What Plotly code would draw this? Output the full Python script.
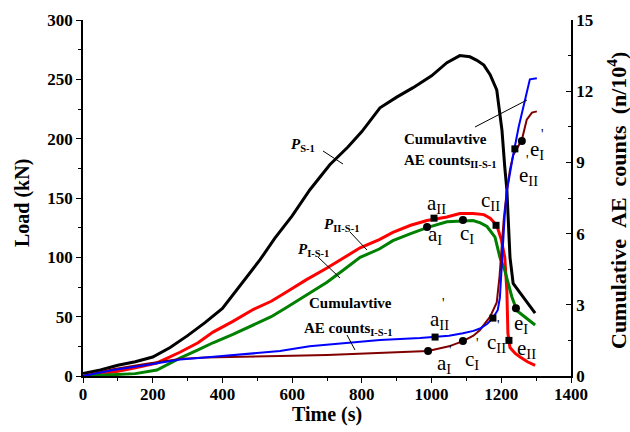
import plotly.graph_objects as go

# ---------------- data ----------------
t_s1 = [0, 50, 100, 150, 200, 250, 300, 350, 400, 450, 508, 550, 600, 651, 708, 760, 800, 852, 900, 947,
        1000, 1044, 1081, 1110, 1130, 1150, 1168, 1187, 1202, 1210, 1216, 1225, 1234, 1254, 1275, 1297]
load_s1 = [2, 5, 9, 12, 16, 24, 34, 45, 57, 76, 98, 116, 135, 157, 178, 193, 206, 226, 235, 243,
           253, 264, 270, 269, 266, 262, 254, 241, 207, 176, 157, 100, 78, 70, 62, 53]

t_II = [0, 50, 100, 150, 212, 278, 330, 373, 430, 488, 540, 585, 640, 700, 750, 795, 850, 889, 940, 987,
        1044, 1081, 1119, 1150, 1168, 1187, 1200, 1210, 1216, 1219, 1225, 1240, 1254, 1275, 1297]
load_II = [0, 2, 4, 7, 11, 20, 28, 37, 46, 56, 63, 71, 81, 91, 100, 108, 115, 121, 127, 131,
           134, 137, 137, 136, 133, 127, 115, 100, 72, 36, 24, 19, 16, 12, 9]

t_I = [0, 100, 150, 212, 278, 330, 373, 430, 488, 540, 585, 640, 700, 750, 795, 850, 889, 940, 987,
       1044, 1090, 1119, 1140, 1159, 1182, 1196, 1210, 1230, 1245, 1270, 1297]
load_I = [0, 1, 2, 5, 15, 22, 28, 35, 43, 50, 58, 68, 79, 90, 100, 107, 114, 120, 125,
          130, 131, 131, 129, 126, 117, 100, 89, 67, 55, 49, 43]

t_ae_II = [0, 86, 183, 278, 350, 400, 480, 565, 650, 775, 852, 967, 1010, 1050, 1090, 1120, 1139, 1160,
           1176, 1190, 1196, 1200, 1205, 1210, 1216, 1225, 1234, 1250, 1262, 1275, 1282, 1302]
ae_II = [0, 0.25, 0.46, 0.7, 0.78, 0.85, 0.95, 1.05, 1.25, 1.43, 1.52, 1.6, 1.64, 1.7, 1.8, 1.9, 2.0, 2.2,
         2.44, 2.78, 3.3, 4.3, 5.8, 6.8, 7.8, 8.6, 9.3, 10.5, 11.3, 12.1, 12.5, 12.55]

t_ae_I = [0, 86, 183, 278, 350, 400, 500, 600, 700, 800, 852, 920, 990, 1050, 1090, 1120, 1139, 1168,
          1187, 1195, 1200, 1207, 1216, 1225, 1234, 1250, 1259, 1273, 1288, 1302]
ae_I = [0, 0.28, 0.52, 0.72, 0.78, 0.8, 0.82, 0.85, 0.88, 0.93, 0.97, 1.0, 1.05, 1.25, 1.47, 1.7, 1.94, 2.5,
        3.1, 4.2, 5.1, 6.6, 7.8, 8.7, 9.3, 9.7, 9.95, 10.8, 11.1, 11.15]

# characteristic points
pt_load_II_t = [1007, 1185, 1222]
pt_load_II = [133, 127, 30]
pt_load_I_t = [987, 1090, 1242]
pt_load_I = [125.5, 131.5, 57]
pt_ae_II_t = [1010, 1176, 1239]
pt_ae_II = [1.64, 2.44, 9.57]
pt_ae_I_t = [990, 1090, 1259]
pt_ae_I = [1.05, 1.47, 9.9]

x_ticks = [0, 200, 400, 600, 800, 1000, 1200, 1400]
y_ticks = [0, 50, 100, 150, 200, 250, 300]
y2_ticks = [0, 3, 6, 9, 12, 15]

# ---------------- figure ----------------
FONT = "Liberation Serif"
X0, X1, YB, YT = 83, 571, 376, 20
W, H = 630, 432


def px(x):
    return (x - X0) / (X1 - X0)


def py(y):
    return (YB - y) / (YB - YT)


fig = go.Figure()
fig.add_trace(go.Scatter(x=t_ae_I, y=ae_I, yaxis="y2", mode="lines",
                         line=dict(color="#800000", width=2)))
fig.add_trace(go.Scatter(x=t_ae_II, y=ae_II, yaxis="y2", mode="lines",
                         line=dict(color="#0000FF", width=2)))
fig.add_trace(go.Scatter(x=t_s1, y=load_s1, mode="lines", line=dict(color="black", width=3)))
fig.add_trace(go.Scatter(x=t_II, y=load_II, mode="lines", line=dict(color="#FF0000", width=3)))
fig.add_trace(go.Scatter(x=t_I, y=load_I, mode="lines", line=dict(color="#008000", width=3)))

fig.add_trace(go.Scatter(x=pt_load_II_t, y=pt_load_II, mode="markers",
                         marker=dict(symbol="square", size=7, color="black")))
fig.add_trace(go.Scatter(x=pt_load_I_t, y=pt_load_I, mode="markers",
                         marker=dict(symbol="circle", size=8, color="black")))
fig.add_trace(go.Scatter(x=pt_ae_II_t, y=pt_ae_II, yaxis="y2", mode="markers",
                         marker=dict(symbol="square", size=7, color="black")))
fig.add_trace(go.Scatter(x=pt_ae_I_t, y=pt_ae_I, yaxis="y2", mode="markers",
                         marker=dict(symbol="circle", size=8, color="black")))

annotations = []


def label(text, x, y, size=22, bold=False, xanchor="left", yanchor="middle", angle=0):
    annotations.append(dict(text=text, x=px(x), y=py(y), xref="paper", yref="paper",
                            showarrow=False, xanchor=xanchor, yanchor=yanchor, textangle=angle,
                            font=dict(family=FONT, size=size, color="black",
                                      weight="bold" if bold else "normal")))


# point labels (letter left edge x, letter centre y)
pts = [("a<sub>II</sub>", 425, 204), ("a<sub>I</sub>", 426, 235), ("c<sub>I</sub>", 458, 234),
       ("c<sub>II</sub>", 479, 201), ("e<sub>I</sub>", 512, 324), ("e<sub>II</sub>", 515, 349),
       ("a<sub>II</sub>", 428, 320), ("a<sub>I</sub>", 435, 364), ("c<sub>I</sub>", 463, 360),
       ("c<sub>II</sub>", 485, 343), ("e<sub>I</sub>", 528, 150), ("e<sub>II</sub>", 517, 176)]
for txt, x, y in pts:
    label(txt, x, y, size=21)

primes = [(443, 303), (450, 350), (477, 343), (498, 325), (542, 134), (527, 160)]
for x, y in primes:
    label("'", x, y, size=14, xanchor="center")

# curve labels
label("<i>P</i><sub>S-1</sub>", 289, 145, size=15, bold=True)
label("<i>P</i><sub>II-S-1</sub>", 322, 225, size=15, bold=True)
label("<i>P</i><sub>I-S-1</sub>", 296, 250, size=15, bold=True)
label("Cumulavtive", 307, 303, size=15, bold=True)
label("AE counts<sub>I-S-1</sub>", 302, 329, size=15, bold=True)
label("Cumulavtive", 445, 139, size=15, bold=True, xanchor="center")
label("AE counts<sub>II-S-1</sub>", 450, 161, size=15, bold=True, xanchor="center")

# axis titles
NB = "\u00a0"
label("Load (kN)", 22, 203, size=20, bold=True, xanchor="center", angle=-90)
label("Time (s)", 327, 414, size=20, bold=True, xanchor="center")
label("Cumulative" + NB * 2 + "AE" + NB * 2 + "counts" + NB * 2 + "(n/10<sup>4</sup>)",
      617, 201, size=22, bold=True, xanchor="center", angle=-90)

shapes = []
for (xa, ya, xb, yb) in [(323, 151, 343, 164), (350, 232, 367, 250), (318, 257, 340, 278),
                         (347, 335, 355, 350), (475, 127, 527, 100)]:
    shapes.append(dict(type="line", xref="paper", yref="paper",
                       x0=px(xa), y0=py(ya), x1=px(xb), y1=py(yb),
                       line=dict(color="black", width=1)))

tickfont = dict(family=FONT, size=17, color="black", weight="bold")

fig.update_layout(
    width=W, height=H, showlegend=False,
    paper_bgcolor="white", plot_bgcolor="white",
    margin=dict(l=X0, r=W - X1, t=YT, b=H - YB, pad=0),
    annotations=annotations, shapes=shapes,
    xaxis=dict(range=[0, 1400], tickvals=x_ticks, ticks="outside", ticklen=5, tickwidth=1.2,
               tickcolor="black", showline=True, linecolor="black", linewidth=1.5,
               showgrid=False, zeroline=False, tickfont=tickfont, ticklabelstandoff=-3,
               minor=dict(dtick=100, ticks="outside", ticklen=3, tickcolor="black", showgrid=False)),
    yaxis=dict(range=[0, 300], tickvals=y_ticks, ticks="outside", ticklen=5, tickwidth=1.2,
               tickcolor="black", showline=True, linecolor="black", linewidth=1.5,
               showgrid=False, zeroline=False, tickfont=tickfont,
               minor=dict(dtick=25, ticks="outside", ticklen=3, tickcolor="black", showgrid=False)),
    yaxis2=dict(range=[0, 15], tickvals=y2_ticks, overlaying="y", side="right", anchor="x",
                ticks="inside", ticklen=5, tickwidth=1.2, tickcolor="black",
                showline=True, linecolor="black", linewidth=1.5,
                showgrid=False, zeroline=False, tickfont=tickfont,
                minor=dict(dtick=1.5, ticks="inside", ticklen=3, tickcolor="black", showgrid=False)),
)

fig.write_html("out.html")
